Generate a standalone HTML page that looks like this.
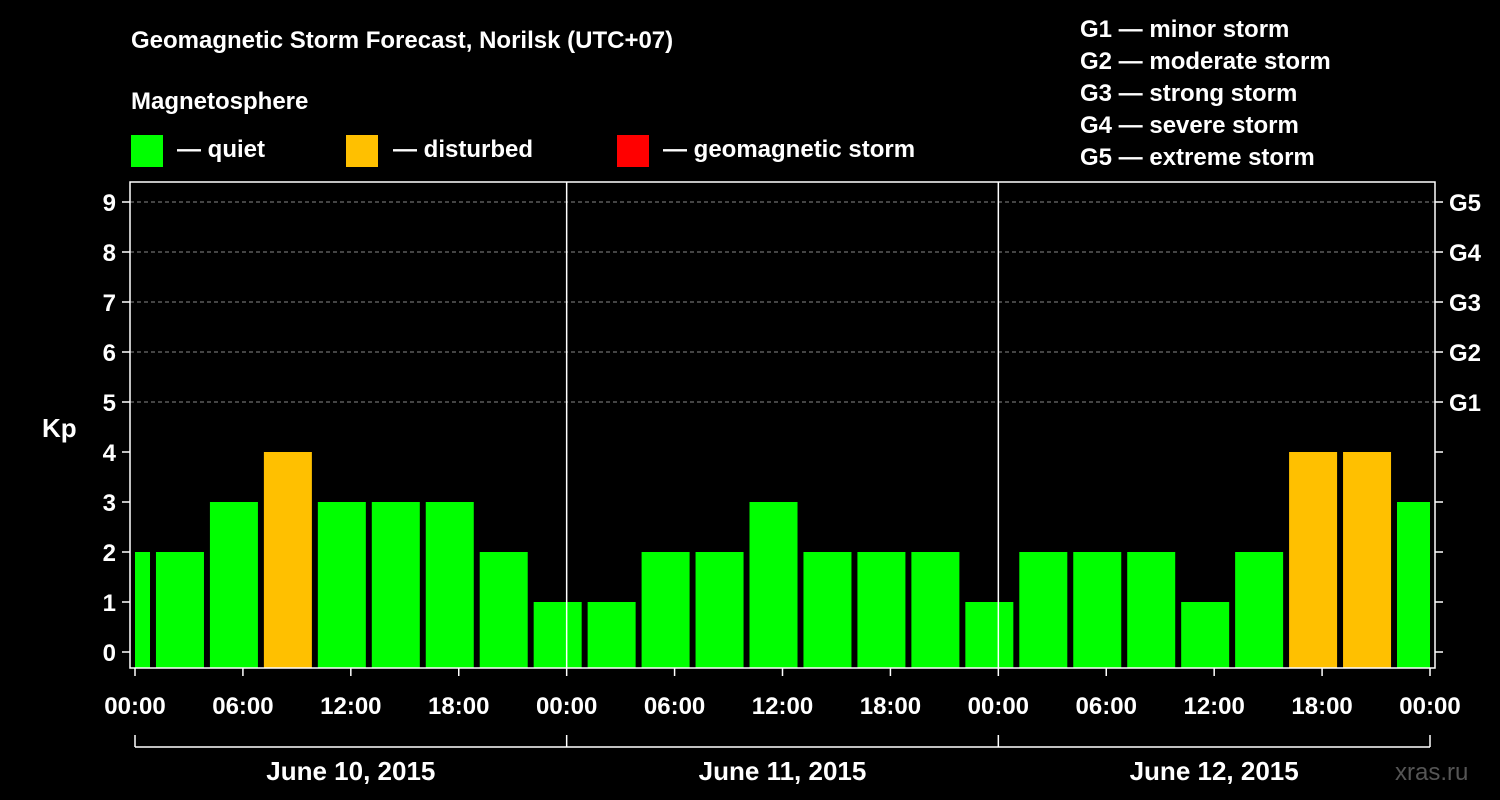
<!DOCTYPE html>
<html><head><meta charset="utf-8"><style>
body{margin:0;background:#000;}
svg{display:block;font-family:"Liberation Sans",sans-serif;font-weight:bold;}
</style></head><body>
<svg id="chart" width="1500" height="800" viewBox="0 0 1500 800">
<rect width="1500" height="800" fill="#000"/>
<text x="131" y="48" fill="#fff" font-size="24">Geomagnetic Storm Forecast, Norilsk (UTC+07)</text>
<text x="131" y="109" fill="#fff" font-size="24">Magnetosphere</text>
<g>
<rect x="131" y="135" width="32" height="32" fill="#00ff00"/>
<text x="177" y="157" fill="#fff" font-size="24">— quiet</text>
<rect x="346" y="135" width="32" height="32" fill="#ffc000"/>
<text x="393" y="157" fill="#fff" font-size="24">— disturbed</text>
<rect x="617" y="135" width="32" height="32" fill="#ff0000"/>
<text x="663" y="157" fill="#fff" font-size="24">— geomagnetic storm</text>
</g>
<g fill="#fff" font-size="24">
<text x="1080" y="37">G1 — minor storm</text>
<text x="1080" y="69">G2 — moderate storm</text>
<text x="1080" y="101">G3 — strong storm</text>
<text x="1080" y="133">G4 — severe storm</text>
<text x="1080" y="165">G5 — extreme storm</text>
</g>
<text x="42" y="437" fill="#fff" font-size="26">Kp</text>
<text x="1395" y="780" fill="#555" font-size="24" font-weight="normal">xras.ru</text>
<defs><clipPath id="pc"><rect x="135" y="182" width="1295" height="486"/></clipPath></defs>
<g id="grid"></g>
<g id="bars" clip-path="url(#pc)"></g>
<g id="axes"></g>
</svg>
<script>
const hours=[-0.5,2.5,5.5,8.5,11.5,14.5,17.5,20.5,23.5,26.5,29.5,32.5,35.5,38.5,41.5,44.5,47.5,50.5,53.5,56.5,59.5,62.5,65.5,68.5,71.5];
const kp=[2,2,3,4,3,3,3,2,1,1,2,2,3,2,2,2,1,2,2,2,1,2,4,4,3];
const yTicks=[0,1,2,3,4,5,6,7,8,9];
const gLabels=["G1","G2","G3","G4","G5"];
const xTickLabels=["00:00","06:00","12:00","18:00","00:00","06:00","12:00","18:00","00:00","06:00","12:00","18:00","00:00"];
const dates=["June 10, 2015","June 11, 2015","June 12, 2015"];
const NS="http://www.w3.org/2000/svg";
const x=h=>135+h*(1295/72);
const y=v=>652-v*50;
const col=v=>v>=5?"#ff0000":(v>=4?"#ffc000":"#00ff00");
function mk(t,a,p){const e=document.createElementNS(NS,t);for(const k in a)e.setAttribute(k,a[k]);p.appendChild(e);return e;}
const grid=document.getElementById('grid'),bars=document.getElementById('bars'),axes=document.getElementById('axes');
yTicks.forEach(v=>{
 if(v>=5){const l=mk('line',{x1:130,x2:1435,y1:y(v),y2:y(v),stroke:'#888','stroke-dasharray':'4,3','stroke-width':1},grid);
 
 }
 mk('line',{x1:122,x2:130,y1:y(v),y2:y(v),stroke:'#fff','stroke-width':1.5},axes);
 mk('line',{x1:1435,x2:1443,y1:y(v),y2:y(v),stroke:'#fff','stroke-width':1.5},axes);
 const t=mk('text',{x:116,y:y(v)+9,fill:'#fff','font-size':24,'text-anchor':'end'},axes);
 
 
 t.textContent=v;
});
gLabels.forEach((g,i)=>{
 const t=mk('text',{x:1449,y:y(5+i)+9,fill:'#fff','font-size':24},axes);
 
 
 t.textContent=g;
});
hours.forEach((h,i)=>{
 const r=mk('rect',{x:x(h)-24,width:48,y:y(kp[i]),height:668-y(kp[i]),fill:col(kp[i])},bars);
 
 
});
mk('rect',{x:130,y:182,width:1305,height:486,fill:'none',stroke:'#fff','stroke-width':1.5},axes);
[24,48].forEach(h=>mk('line',{x1:x(h),x2:x(h),y1:182,y2:668,stroke:'#fff','stroke-width':1.5},axes));
xTickLabels.forEach((s,i)=>{
 mk('line',{x1:x(i*6),x2:x(i*6),y1:668,y2:676,stroke:'#fff','stroke-width':1.5},axes);
 const t=mk('text',{x:x(i*6),y:714,fill:'#fff','font-size':24,'text-anchor':'middle'},axes);
 
 
 t.textContent=s;
});
mk('line',{x1:x(0),x2:x(72),y1:747,y2:747,stroke:'#fff','stroke-width':1.5},axes);
[0,24,48,72].forEach(h=>mk('line',{x1:x(h),x2:x(h),y1:735,y2:747,stroke:'#fff','stroke-width':1.5},axes));
dates.forEach((d,i)=>{
 const t=mk('text',{x:x(i*24+12),y:780,fill:'#fff','font-size':26,'text-anchor':'middle'},axes);
 
 
 t.textContent=d;
});
</script>
</body></html>
